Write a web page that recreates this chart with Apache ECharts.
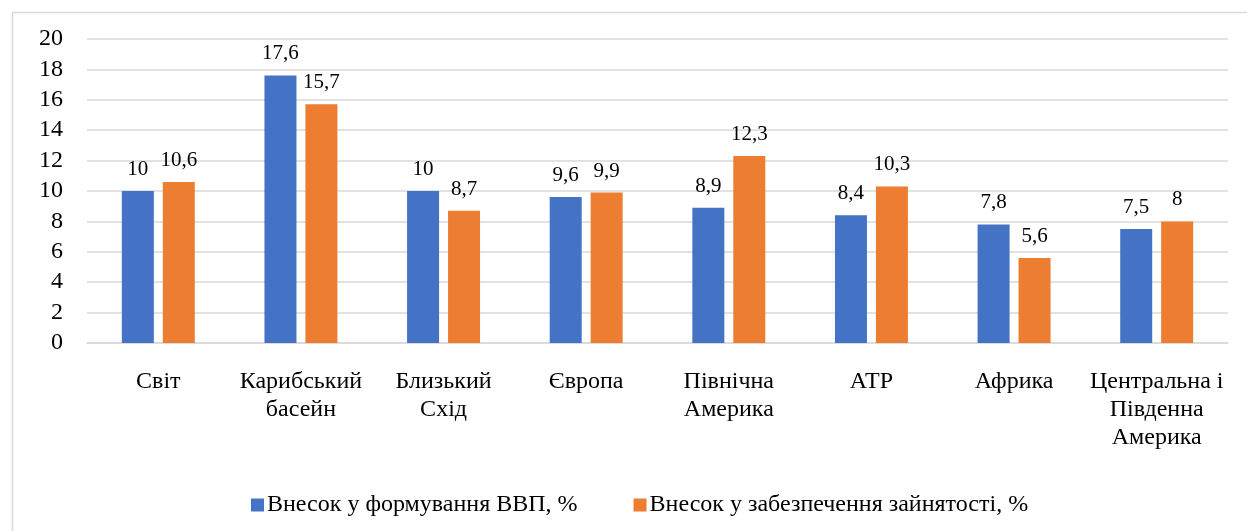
<!DOCTYPE html>
<html>
<head>
<meta charset="utf-8">
<script src="https://cdn.jsdelivr.net/npm/echarts@6/dist/echarts.min.js"></script>
<style>html,body{margin:0;padding:0;background:#fff}#c{width:1247px;height:531px}</style>
</head>
<body>
<div id="c"></div>
<script>
const categories = ['Світ', 'Карибський\nбасейн', 'Близький\nСхід', 'Європа', 'Північна\nАмерика', 'АТР', 'Африка', 'Центральна і\nПівденна\nАмерика'];
const seriesNames = ['Внесок у формування ВВП, %', 'Внесок у забезпечення зайнятості, %'];
const gdpValues = [10, 17.6, 10, 9.6, 8.9, 8.4, 7.8, 7.5];
const employmentValues = [10.6, 15.7, 8.7, 9.9, 12.3, 10.3, 5.6, 8];
const yTicks = {min: 0, max: 20, interval: 2};

const font = 'Liberation Serif';
const chart = echarts.init(document.getElementById('c'), null, {renderer: 'canvas'});
const fmt = p => String(p.value).replace('.', ',');
chart.setOption({
  animation: false,
  textStyle: {fontFamily: font},
  graphic: [{
    type: 'rect', left: 10, top: 10, z: -1,
    shape: {x: 0, y: 0, width: 1400, height: 700},
    style: {fill: 'none', stroke: '#d9d9d9', lineWidth: 1.5}
  }],
  grid: {left: 87, right: 19, top: 39, bottom: 188, containLabel: false},
  legend: {
    top: 488, left: 246, itemWidth: 13, itemHeight: 13, itemGap: 56,
    icon: 'rect',
    textStyle: {fontFamily: font, fontSize: 24, color: '#000', padding: [0, 0, 0, -2]},
    data: seriesNames
  },
  xAxis: {
    type: 'category', data: categories,
    axisLine: {lineStyle: {color: '#d9d9d9', width: 1.5}},
    axisTick: {show: false},
    axisLabel: {fontFamily: font, fontSize: 24, color: '#000', margin: 25, lineHeight: 28, interval: 0}
  },
  yAxis: {
    type: 'value', min: yTicks.min, max: yTicks.max, interval: yTicks.interval,
    axisLine: {show: false}, axisTick: {show: false},
    axisLabel: {fontFamily: font, fontSize: 24, color: '#000', margin: 24},
    splitLine: {lineStyle: {color: '#d9d9d9', width: 1.5}}
  },
  series: [
    {name: seriesNames[0], type: 'bar', data: gdpValues, barWidth: 32, barGap: '28%',
     itemStyle: {color: '#4472c4'},
     label: {show: true, position: 'top', distance: 11, formatter: fmt, fontFamily: font, fontSize: 21, color: '#000'}},
    {name: seriesNames[1], type: 'bar', data: employmentValues, barWidth: 32, barGap: '28%',
     itemStyle: {color: '#ed7d31'},
     label: {show: true, position: 'top', distance: 11, formatter: fmt, fontFamily: font, fontSize: 21, color: '#000'}}
  ]
});
</script>
</body>
</html>
